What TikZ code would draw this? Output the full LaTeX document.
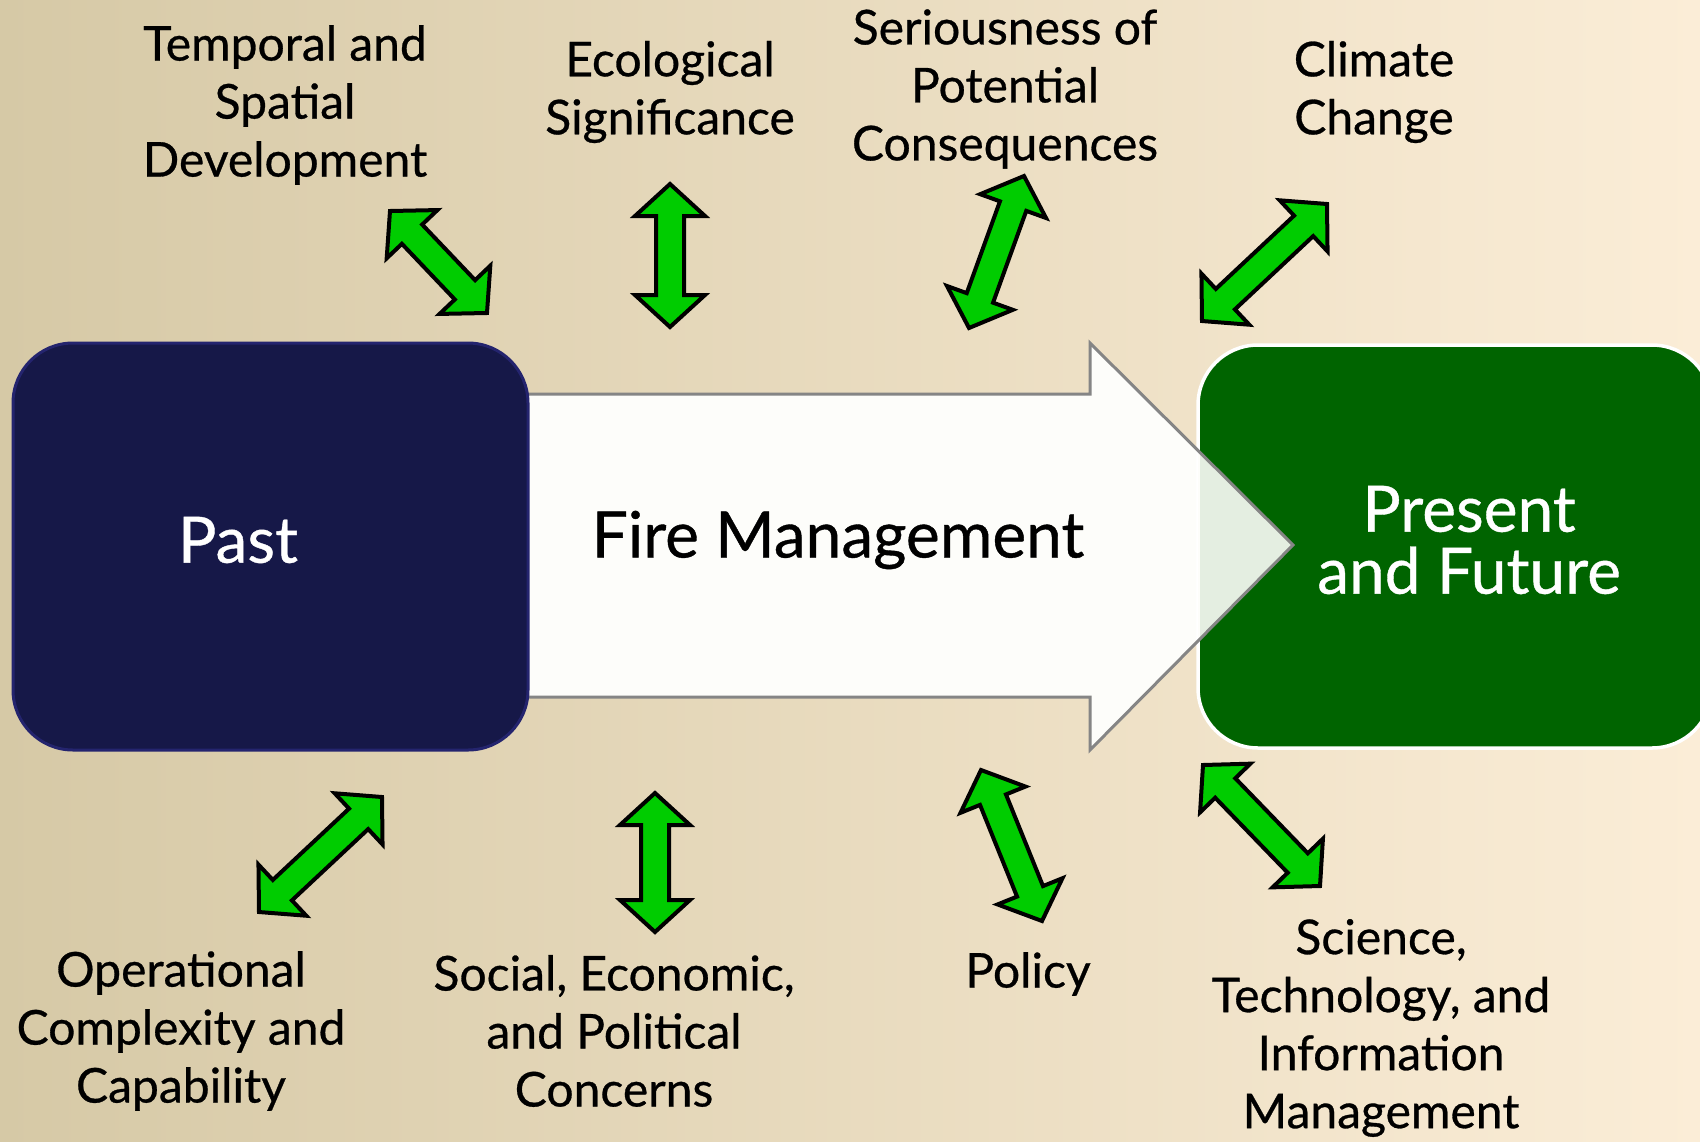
\documentclass[tikz,border=0pt]{standalone}
\usepackage{fontspec}
\setmainfont{Lato}[FakeBold=0.6]
\usetikzlibrary{calc}
\definecolor{bgL}{RGB}{214,201,166}
\definecolor{bgR}{RGB}{251,237,215}
\definecolor{pastfill}{RGB}{22,24,72}
\definecolor{pastdraw}{RGB}{36,36,110}
\definecolor{presfill}{RGB}{0,100,0}
\definecolor{arrgreen}{RGB}{0,204,0}
\definecolor{bigfill}{RGB}{253,253,250}
\definecolor{bigdraw}{RGB}{133,133,133}
\tikzset{
  lbl/.style={align=center, text=black, font=\fontsize{48}{58}\selectfont, inner sep=0pt},
  bigtxt/.style={align=center, font=\fontsize{64}{62}\selectfont, inner sep=0pt},
  dblarr/.style={draw=black, fill=arrgreen, line width=4pt, line join=miter},
  pastbox/.style={draw=pastdraw, fill=pastfill, line width=3pt, rounded corners=60pt},
  presbox/.style={draw=white, fill=presfill, line width=3.5pt, rounded corners=60pt},
  bigarrowline/.style={draw=bigdraw, line width=3pt, line join=miter}
}
\newcommand\dblarrow[2]{%
  \draw[dblarr] let \p1=($(#2)-(#1)$), \n1={atan2(\y1,\x1)}, \n2={veclen(\x1,\y1)} in
   [shift={(#1)}, rotate=\n1]
   (0,0) -- (32,35) -- (32,14) -- (\n2-32,14) -- (\n2-32,35) -- (\n2,0)
   -- (\n2-32,-35) -- (\n2-32,-14) -- (32,-14) -- (32,-35) -- cycle;
}
\begin{document}
\begin{tikzpicture}[x=1pt,y=-1pt]
\useasboundingbox (0,0) rectangle (1700,1141);
\clip (0,0) rectangle (1700,1141);
\shade[left color=bgL, right color=bgR] (0,0) rectangle (1700,1141);

% big arrow body (opaque)
\fill[bigfill] (500,394) -- (1090,394) -- (1090,343) -- (1293,545) -- (1090,750) -- (1090,697) -- (500,697) -- cycle;
% present box
\draw[presbox] (1198,345) rectangle (1712,748);
% arrow tip seen over the box
\begin{scope}
  \clip (1198,345) rectangle (1712,748);
  \fill[bigfill, fill opacity=0.9] (500,394) -- (1090,394) -- (1090,343) -- (1293,545) -- (1090,750) -- (1090,697) -- (500,697) -- cycle;
\end{scope}
% big arrow outline
\draw[bigarrowline] (500,394) -- (1090,394) -- (1090,343) -- (1293,545) -- (1090,750) -- (1090,697) -- (500,697);
% past box
\draw[pastbox] (13,343) rectangle (528,750);

\node[bigtxt, text=white] (past) at (238,540) {Past};
\node[bigtxt, text=black] (fire) at (838,540) {Fire Management};
\node[bigtxt, text=white] (pres) at (1469,540) {Present\\and Future};

% labels
\node[lbl] (l1) at (285,105) {Temporal and\\Spatial\\Development};
\node[lbl] (l2) at (670,92) {Ecological\\Significance};
\node[lbl] (l3) at (1005,89) {Seriousness of\\Potential\\Consequences};
\node[lbl] (l4) at (1374,92) {Climate\\Change};
\node[lbl] (l5) at (181,1031) {Operational\\Complexity and\\Capability};
\node[lbl] (l6) at (614,1031) {Social, Economic,\\and Political\\Concerns};
\node[lbl] (l7) at (1028,974) {Policy};
\node[lbl] (l8) at (1381,1028) {Science,\\Technology, and\\Information\\Management};

% arrow end points
\coordinate (a1s) at (390,211); \coordinate (a1e) at (487,313);
\coordinate (a2s) at (670,184); \coordinate (a2e) at (670,327);
\coordinate (a3s) at (1024,176); \coordinate (a3e) at (969,328);
\coordinate (a4s) at (1327,204); \coordinate (a4e) at (1202,321);
\coordinate (a5s) at (382,797); \coordinate (a5e) at (259,912);
\coordinate (a6s) at (655,793); \coordinate (a6e) at (655,932);
\coordinate (a7s) at (981,770); \coordinate (a7e) at (1042,921);
\coordinate (a8s) at (1203,765); \coordinate (a8e) at (1320,886);

\dblarrow{a1s}{a1e}
\dblarrow{a2s}{a2e}
\dblarrow{a3s}{a3e}
\dblarrow{a4s}{a4e}
\dblarrow{a5s}{a5e}
\dblarrow{a6s}{a6e}
\dblarrow{a7s}{a7e}
\dblarrow{a8s}{a8e}
\end{tikzpicture}
\end{document}
